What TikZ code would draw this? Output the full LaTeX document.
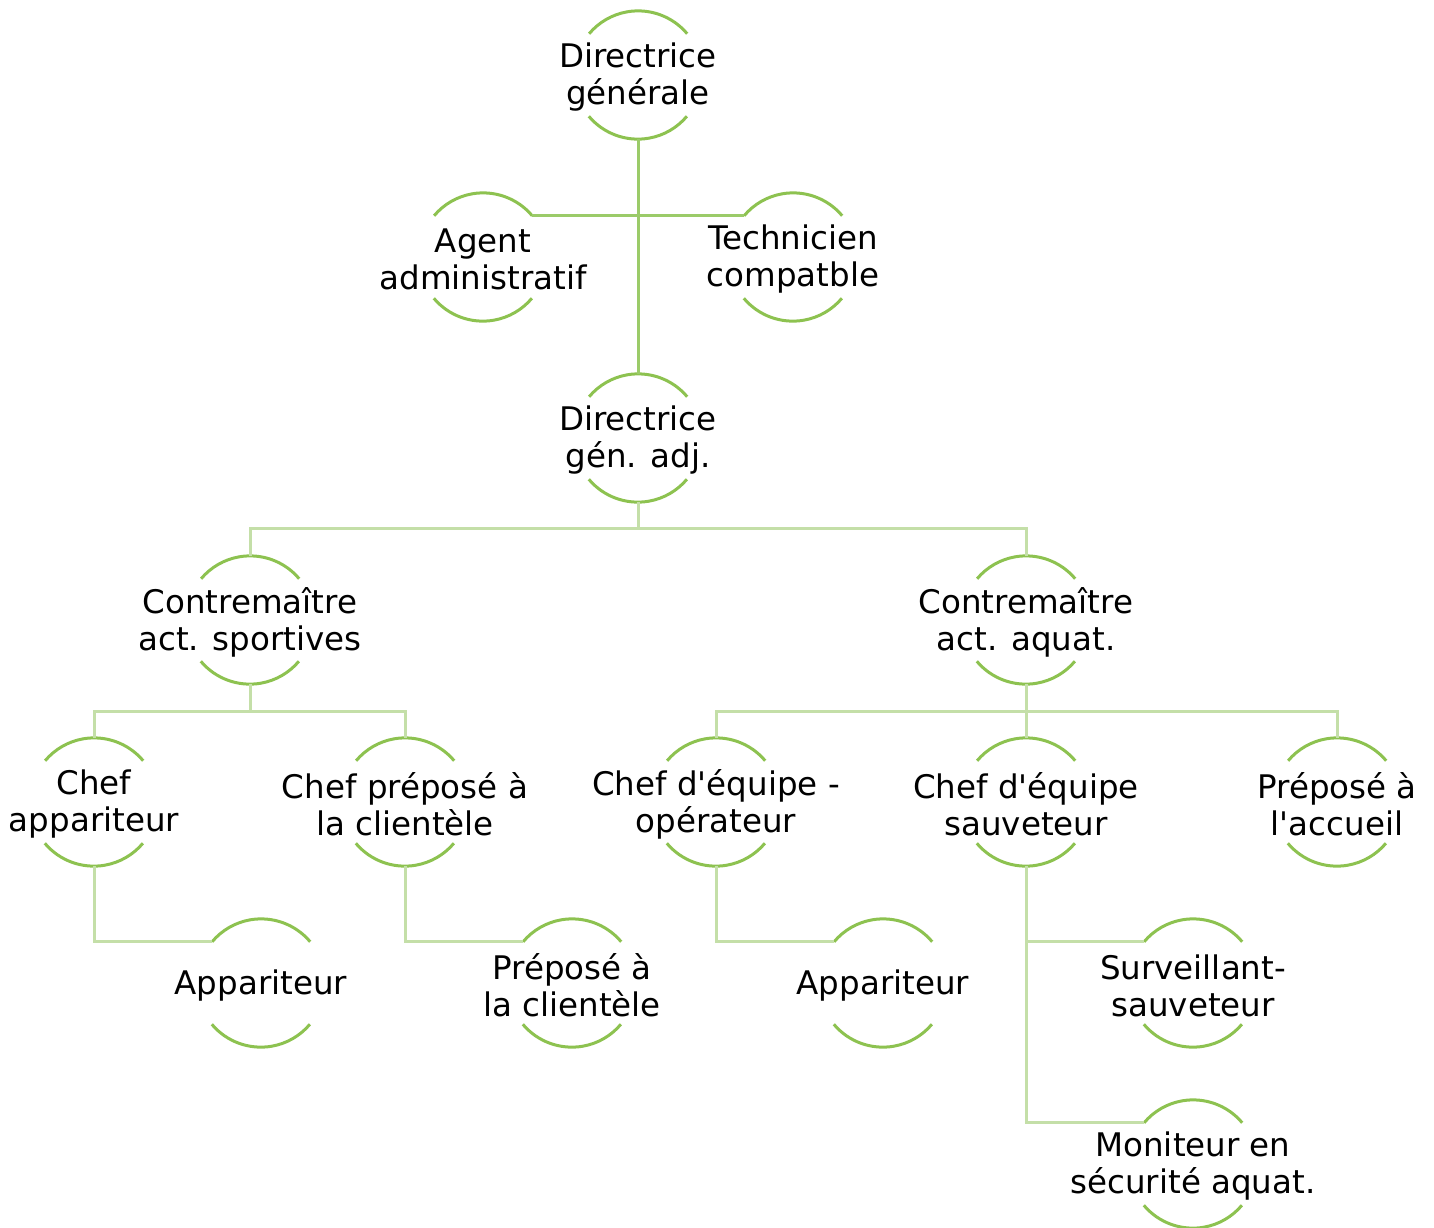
\documentclass[tikz,border=0pt]{standalone}
\usepackage{fontspec}
\setmainfont{DejaVu Sans}
\definecolor{arcg}{RGB}{141,194,80}
\definecolor{lineA}{RGB}{155,203,105}
\definecolor{lineB}{RGB}{196,223,168}
\begin{document}
\begin{tikzpicture}[x=1pt,y=1pt,
  circ/.style={circle, minimum size=128pt, inner sep=0pt, draw=none},
  txt/.style={align=center, font=\fontsize{32.5}{37}\selectfont, text=black, inner sep=0pt, yshift=-2.5pt},
  arcline/.style={draw=arcg, line width=3pt},
  lev1/.style={draw=lineA, line width=3pt},
  lev2/.style={draw=lineB, line width=3pt}]
\useasboundingbox (0,0) rectangle (1434,-1227);
% circles
\node[circ] (dg) at (638,-75) {};
\node[circ] (aa) at (483,-257) {};
\node[circ] (tc) at (793,-257) {};
\node[circ] (dga) at (638,-438) {};
\node[circ] (cs) at (250,-620) {};
\node[circ] (ca) at (1026,-620) {};
\node[circ] (ch1) at (94,-802) {};
\node[circ] (ch2) at (405,-802) {};
\node[circ] (ce1) at (716,-802) {};
\node[circ] (ce2) at (1026,-802) {};
\node[circ] (pa) at (1337,-802) {};
\node[circ] (ap1) at (261,-983) {};
\node[circ] (pc) at (572,-983) {};
\node[circ] (ap2) at (883,-983) {};
\node[circ] (sv) at (1193,-983) {};
\node[circ] (mo) at (1193,-1164) {};
% arcs
\foreach \n in {dg,aa,tc,dga,cs,ca,ch1,ch2,ce1,ce2,pa,ap1,pc,ap2,sv,mo}{
  \draw[arcline] (\n.40) arc (40:140:64);
  \draw[arcline] (\n.220) arc (220:320:64);
}
% connectors
\draw[lev1] (dg.south) -- (dga.north);
\draw[lev1] (aa.40) -- (tc.140);
\draw[lev2] (dga.south) -- ++(0,-26) coordinate (j1);
\draw[lev2] (j1) -| (cs.north);
\draw[lev2] (j1) -| (ca.north);
\draw[lev2] (cs.south) -- ++(0,-27) coordinate (j2);
\draw[lev2] (j2) -| (ch1.north);
\draw[lev2] (j2) -| (ch2.north);
\draw[lev2] (ca.south) -- (ce2.north);
\draw[lev2] (ca.south) ++(0,-27) coordinate (j3);
\draw[lev2] (j3) -| (ce1.north);
\draw[lev2] (j3) -| (pa.north);
\draw[lev2] (ch1.south) |- (ap1.140);
\draw[lev2] (ch2.south) |- (pc.140);
\draw[lev2] (ce1.south) |- (ap2.140);
\draw[lev2] (ce2.south) |- (mo.140);
\draw[lev2] (ce2.south |- sv.140) -- (sv.140);
% texts
\node[txt] (dgt) at (dg) {Directrice\\générale};
\node[txt] (aat) at (aa) {Agent\\administratif};
\node[txt] (tct) at (tc) {Technicien\\compatble};
\node[txt] (dgat) at (dga) {Directrice\\gén. adj.};
\node[txt] (cst) at (cs) {Contremaître\\act. sportives};
\node[txt] (cat) at (ca) {Contremaître\\act. aquat.};
\node[txt] (ch1t) at (ch1) {Chef\\appariteur};
\node[txt] (ch2t) at (ch2) {Chef préposé à\\la clientèle};
\node[txt] (ce1t) at (ce1) {Chef d\textquotesingle équipe -\\opérateur};
\node[txt] (ce2t) at (ce2) {Chef d\textquotesingle équipe\\sauveteur};
\node[txt] (pat) at (pa) {Préposé à\\l\textquotesingle accueil};
\node[txt] (ap1t) at (ap1) {Appariteur};
\node[txt] (pct) at (pc) {Préposé à\\la clientèle};
\node[txt] (ap2t) at (ap2) {Appariteur};
\node[txt] (svt) at (sv) {Surveillant-\\sauveteur};
\node[txt] (mot) at (mo) {Moniteur en\\sécurité aquat.};
\end{tikzpicture}
\end{document}
